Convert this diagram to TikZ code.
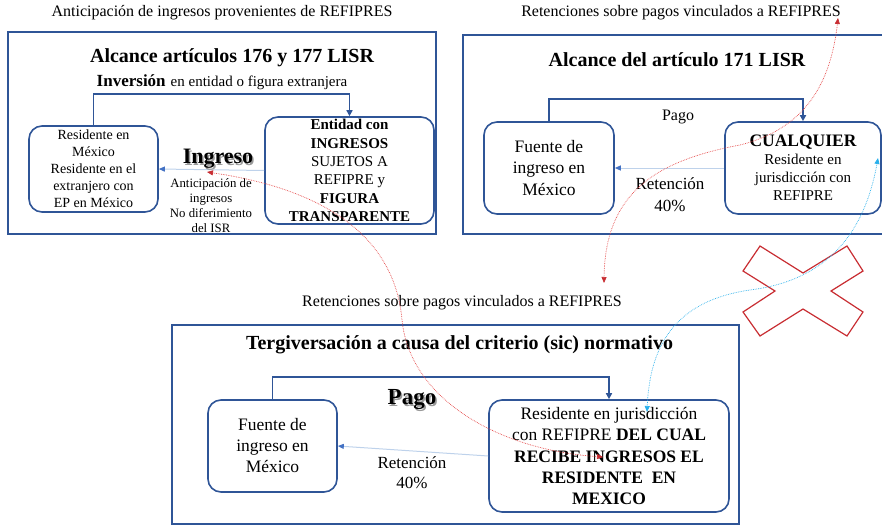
\documentclass[tikz,border=0pt]{standalone}
\usepackage{fontspec}
\setmainfont{Liberation Serif}
\usetikzlibrary{arrows.meta}
\definecolor{fblue}{RGB}{47,85,151}
\definecolor{lblue}{RGB}{190,210,235}
\definecolor{tipblue}{RGB}{68,114,196}
\definecolor{rdot}{RGB}{228,70,70}
\definecolor{cdot}{RGB}{40,175,235}
\definecolor{xred}{RGB}{200,45,50}
\begin{document}
\begin{tikzpicture}[x=1pt,y=-1pt,
  frame/.style={draw=fblue, line width=1.1pt, inner sep=0pt},
  rbox/.style={draw=fblue, line width=1.6pt, rounded corners=13pt, inner sep=0pt, align=center},
  conn/.style={draw=fblue, line width=1.6pt, -{Triangle[length=6pt,width=6pt]}},
  larr/.style={draw=lblue, line width=1pt, -{Triangle[length=6pt,width=5pt,color=tipblue]}},
  rcurve/.style={draw=rdot, densely dotted, line width=0.7pt, {Triangle[length=6pt,width=5pt,color=xred]}-{Triangle[length=6pt,width=5pt,color=xred]}},
  ccurve/.style={draw=cdot, densely dotted, line width=0.7pt, {Triangle[length=6pt,width=5pt,color=cdot]}-{Triangle[length=6pt,width=5pt,color=cdot]}},
  lab/.style={inner sep=0pt, align=center},
  capf/.style={font=\fontsize{16}{19}\selectfont},
  titf/.style={font=\bfseries\fontsize{20}{24}\selectfont},
  shad/.style={lab, text=black!40, font=\bfseries\fontsize{#1}{26}\selectfont},
  bigb/.style={lab, font=\bfseries\fontsize{#1}{26}\selectfont}
]
\useasboundingbox (0,0) rectangle (882,527);
\clip (0,0) rectangle (882,527);

% ---------- captions ----------
\node[lab, capf] (cap1) at (222,13) {Anticipación de ingresos provenientes de REFIPRES};
\node[lab, capf] (cap2) at (681,13) {Retenciones sobre pagos vinculados a REFIPRES};
\node[lab, capf] (cap3) at (462,303) {Retenciones sobre pagos vinculados a REFIPRES};

% ---------- frames ----------
\node[frame, minimum width=428pt, minimum height=202pt] (f1) at (222,133) {};
\node[frame, minimum width=420pt, minimum height=199pt] (f2) at (673,134.5) {};
\node[frame, minimum width=567pt, minimum height=199pt] (f3) at (455.5,424.5) {};

% ---------- top left ----------
\node[lab, titf] (t1) at (232,58) {Alcance artículos 176 y 177 LISR};
\node[lab] (inv) at (222,82) {{\bfseries\fontsize{17}{20}\selectfont Inversión}\ \ {\fontsize{15}{18}\selectfont en entidad o figura extranjera}};
\node[rbox, minimum width=129pt, minimum height=86pt, font=\fontsize{14}{17}\selectfont] (a1) at (93.5,169)
  {Residente en\\México\\Residente en el\\extranjero con\\EP en México};
\node[rbox, minimum width=169pt, minimum height=107pt, font=\fontsize{15}{18.4}\selectfont] (b1) at (349.5,170.5)
  {\textbf{Entidad con}\\\textbf{INGRESOS}\\SUJETOS A\\REFIPRE y\\\textbf{FIGURA}\\\textbf{TRANSPARENTE}};
\coordinate (k1) at (0,94);
\draw[conn] (a1.north) -- (a1.north |- k1) -| (b1.north);
\draw[larr] (b1.west) -- (a1.east);
\node[shad=22] (ingsh) at (219.5,160.5) {Ingreso};
\node[bigb=22] (ing) at (218,159) {Ingreso};
\node[lab, font=\fontsize{12.8}{15}\selectfont] (ant) at (211,205.5) {Anticipación de\\ingresos\\No diferimiento\\del ISR};

% ---------- top right ----------
\node[lab, titf] (t2) at (677,60) {Alcance del artículo 171 LISR};
\node[rbox, minimum width=130pt, minimum height=92pt, font=\fontsize{17.5}{21.5}\selectfont] (a2) at (549,168)
  {Fuente de\\ingreso en\\México};
\node[rbox, minimum width=156pt, minimum height=92pt, font=\fontsize{15}{18}\selectfont] (b2) at (803,168)
  {{\bfseries\fontsize{17.5}{20}\selectfont CUALQUIER}\\Residente en\\jurisdicción con\\REFIPRE};
\coordinate (k2) at (0,99);
\draw[conn] (a2.north) -- (a2.north |- k2) -| (b2.north);
\draw[larr] (b2.west) -- (a2.east);
\node[lab, font=\fontsize{16}{19}\selectfont] (pago2) at (678,117) {Pago};
\node[lab, font=\fontsize{17}{22}\selectfont] (ret2) at (670,195) {Retención\\40\%};

% ---------- bottom ----------
\node[lab, titf] (t3) at (459.5,345) {Tergiversación a causa del criterio (sic) normativo};
\node[rbox, minimum width=129pt, minimum height=92pt, font=\fontsize{17.5}{21}\selectfont] (a3) at (272.5,446)
  {Fuente de\\ingreso en\\México};
\node[rbox, minimum width=240pt, minimum height=112pt, font=\fontsize{17.5}{21.3}\selectfont] (b3) at (609,456)
  {Residente en jurisdicción\\con REFIPRE \textbf{DEL CUAL}\\\textbf{RECIBE INGRESOS EL}\\\textbf{RESIDENTE\ \ EN}\\\textbf{MEXICO}};
\coordinate (k3) at (0,377);
\draw[conn] (a3.north) -- (a3.north |- k3) -| (b3.north);
\draw[larr] (b3.west) -- (a3.east);
\node[shad=23] (pagsh) at (413.5,401.5) {Pago};
\node[bigb=23] (pag3) at (412,400) {Pago};
\node[lab, font=\fontsize{17}{20}\selectfont] (ret3) at (412,473) {Retención\\40\%};

% ---------- red cross ----------
\draw[xred, line width=1.2pt, line join=miter] (760,246) -- (803,273) -- (847,246) -- (863,271) -- (831,291) -- (863,312)
  -- (847,336) -- (803,309) -- (760,336) -- (743,312) -- (775,291) -- (743,271) -- cycle;

% ---------- dotted curves ----------
\coordinate (r1a) at (207,172);
\coordinate (r1m) at (402,320);
\coordinate (r1b) at (603,457);
\draw[rcurve] (r1a) .. controls (330,190) and (395,240) .. (r1m) .. controls (410,400) and (500,450) .. (r1b);
\coordinate (r2a) at (838,18);
\coordinate (r2m) at (740,145);
\coordinate (r2b) at (604,283);
\draw[rcurve] (r2a) .. controls (830,90) and (800,130) .. (r2m) .. controls (660,160) and (605,190) .. (r2b);
\coordinate (c1a) at (878,158);
\coordinate (c1m) at (750,290);
\coordinate (c1b) at (647,412);
\draw[ccurve] (c1a) .. controls (865,230) and (830,280) .. (c1m) .. controls (680,300) and (650,340) .. (c1b);
\end{tikzpicture}
\end{document}
